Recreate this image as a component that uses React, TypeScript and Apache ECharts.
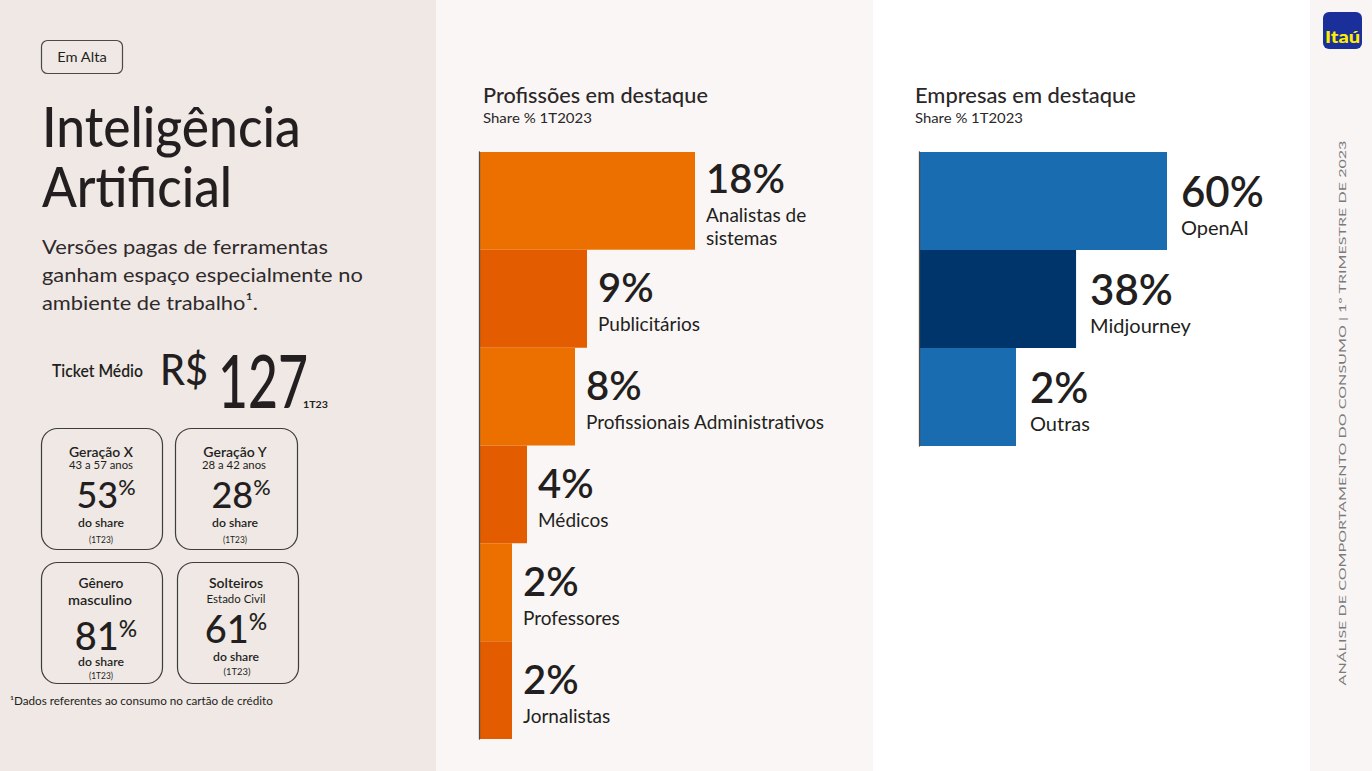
import React, { useEffect, useRef } from 'react';
import * as echarts from 'echarts';

// ---- data ----
const profCategories = ['Analistas de\nsistemas', 'Publicitários', 'Profissionais Administrativos', 'Médicos', 'Professores', 'Jornalistas'];
const profShare = [18, 9, 8, 4, 2, 2];
const profColors = ['#ec7000', '#e35c00', '#ec7000', '#e35c00', '#ec7000', '#e35c00'];

const compCategories = ['OpenAI', 'Midjourney', 'Outras'];
const compShare = [60, 38, 2];
const compColors = ['#1a6cb0', '#00356b', '#1a6cb0'];

const statTitles = ['Geração X', 'Geração Y', 'Gênero', 'Solteiros'];
const statSubtitles = ['43 a 57 anos', '28 a 42 anos', 'masculino', 'Estado Civil'];
const statValues = [53, 28, 81, 61];
const ticketValue = 127;

const FONT = 'Lato, "Noto Sans", sans-serif';
const INK = '#231f20';

export default function App() {
  const ref = useRef<HTMLDivElement>(null);

  useEffect(() => {
    if (!ref.current) return;
    const chart = echarts.init(ref.current, undefined, { renderer: 'svg' });
    const canvas = document.createElement('canvas');
    const ctx = canvas.getContext('2d');

    const txt = (
      text: string, x: number, baseline: number, size: number,
      o: { weight?: string | number; color?: string; align?: string; family?: string; target?: number; k?: number } = {}
    ) => {
      const family = o.family || FONT;
      const weight = o.weight || 'normal';
      let sx = 1;
      if (o.target && ctx) {
        ctx.font = `${weight} ${size}px ${family}`;
        const w = ctx.measureText(text).width;
        if (w > 0) sx = o.target / w;
      }
      const k = o.k ?? 0.387;
      const align = o.align || 'left';
      return {
        type: 'text', x, y: baseline - k * size, scaleX: sx, silent: true, z: 10,
        style: {
          text, fill: o.color || INK, fontSize: size, fontFamily: family, fontWeight: weight,
          align, textAlign: align, verticalAlign: 'middle', textVerticalAlign: 'middle',
        },
      };
    };

    const pct = (v: number, cx: number, baseline: number, size: number) => ({
      type: 'text', x: cx, y: baseline - 0.387 * size, silent: true, z: 10,
      style: {
        text: `{n|${v}}{p|%}`,
        align: 'center', textAlign: 'center', verticalAlign: 'middle', textVerticalAlign: 'middle',
        rich: {
          n: { fontSize: size, lineHeight: size, fontFamily: FONT, fontWeight: 500, fill: INK },
          p: { fontSize: size * 0.6, lineHeight: size * 0.78, fontFamily: FONT, fontWeight: 500, fill: INK, verticalAlign: 'top' },
        },
      },
    });

    const box = (x: number, y: number, w: number, h: number) => ({
      type: 'rect', silent: true, z: 9,
      shape: { x, y, width: w, height: h, r: 16 },
      style: { fill: 'none', stroke: '#3d3d3d', lineWidth: 1.2 },
    });

    const bg = (x: number, w: number, fill: string) => ({
      type: 'rect', silent: true, z: -10, shape: { x, y: 0, width: w, height: 771 }, style: { fill },
    });

    const elements: any[] = [
      bg(0, 436, '#efe8e5'),
      bg(436, 437, '#f9f6f5'),
      bg(873, 437, '#ffffff'),
      bg(1310, 62, '#f8f5f4'),

      // Em Alta tag
      { type: 'rect', silent: true, z: 9, shape: { x: 41.5, y: 40.5, width: 81, height: 33, r: 6 }, style: { fill: 'none', stroke: '#4a4a4a', lineWidth: 1.2 } },
      txt('Em Alta', 82, 62, 14, { align: 'center', target: 50 }),

      // Title
      txt('Inteligência', 42, 147, 56, { weight: 500, target: 259 }),
      txt('Artificial', 42, 207, 56, { weight: 500, target: 190 }),

      // Subtitle
      txt('Versões pagas de ferramentas', 42, 254, 20, { color: '#2e2a2b', target: 286 }),
      txt('ganham espaço especialmente no', 42, 282, 20, { color: '#2e2a2b', target: 321 }),
      txt('ambiente de trabalho¹.', 42, 310, 20, { color: '#2e2a2b', target: 216 }),

      // Ticket
      txt('Ticket Médio', 52, 377, 18, { weight: 600, target: 91 }),
      txt('R$', 160, 385, 42, { weight: 500, target: 48 }),
      txt(String(ticketValue), 218, 408, 74, { weight: 500, target: 90 }),
      txt('1T23', 303, 408, 9, { weight: 'bold', target: 25 }),

      // Stat boxes
      box(41.5, 428.5, 121, 121),
      box(175.5, 428.5, 122, 121),
      box(41.5, 562.5, 121, 121),
      box(177.5, 562.5, 121, 121),

      txt(statTitles[0], 101, 457, 14, { align: 'center', weight: 600, target: 64 }),
      txt(statSubtitles[0], 101, 469, 10.5, { align: 'center', target: 64 }),
      pct(statValues[0], 106, 508, 36),
      txt('do share', 101, 527, 11.5, { align: 'center', weight: 600, target: 46 }),
      txt('(1T23)', 101, 543, 9.5, { align: 'center', target: 24 }),

      txt(statTitles[1], 235, 457, 14, { align: 'center', weight: 600, target: 64 }),
      txt(statSubtitles[1], 234, 469, 10.5, { align: 'center', target: 64 }),
      pct(statValues[1], 241, 508, 36),
      txt('do share', 235, 527, 11.5, { align: 'center', weight: 600, target: 46 }),
      txt('(1T23)', 235, 543, 9.5, { align: 'center', target: 24 }),

      txt(statTitles[2], 101, 588, 14, { align: 'center', weight: 600, target: 45 }),
      txt(statSubtitles[2], 100, 605, 14, { align: 'center', weight: 600, target: 64 }),
      pct(statValues[2], 106, 650, 38),
      txt('do share', 101, 666, 11.5, { align: 'center', weight: 600, target: 46 }),
      txt('(1T23)', 101, 679, 9.5, { align: 'center', target: 24 }),

      txt(statTitles[3], 236, 588, 14, { align: 'center', weight: 600, target: 54 }),
      txt(statSubtitles[3], 236, 603, 10.5, { align: 'center', target: 59 }),
      pct(statValues[3], 236, 643, 38),
      txt('do share', 236, 661, 11.5, { align: 'center', weight: 600, target: 46 }),
      txt('(1T23)', 237, 675, 9.5, { align: 'center', target: 27 }),

      // Footnote
      txt('¹Dados referentes ao consumo no cartão de crédito', 10, 705, 10.5, { target: 263 }),

      // Chart titles
      txt('Profissões em destaque', 483, 103, 21, { weight: 500, color: '#2b2728', target: 225 }),
      txt('Share % 1T2023', 483, 123, 14, { color: '#2b2728', target: 109 }),
      txt('Empresas em destaque', 915, 103, 21, { weight: 500, color: '#2b2728', target: 221 }),
      txt('Share % 1T2023', 915, 123, 14, { color: '#2b2728', target: 108 }),

      // Logo
      { type: 'rect', silent: true, z: 9, shape: { x: 1323, y: 12, width: 39, height: 37, r: 6 }, style: { fill: '#1b2f9b' } },
      txt('Itaú', 1342.5, 43, 16, { align: 'center', weight: 900, color: '#ffee00', target: 35 }),
    ];

    // vertical side text
    const sideText = 'ANÁLISE DE COMPORTAMENTO DO CONSUMO | 1º TRIMESTRE DE 2023';
    let sideScale = 1;
    if (ctx) {
      ctx.font = `normal 9px ${FONT}`;
      const w = ctx.measureText(sideText).width;
      if (w > 0) sideScale = 546 / w;
    }
    elements.push({
      type: 'text', x: 1343, y: 413, rotation: Math.PI / 2, scaleX: sideScale, silent: true, z: 10,
      style: {
        text: sideText, fill: '#7a7a7a', fontSize: 9, fontFamily: FONT,
        align: 'center', textAlign: 'center', verticalAlign: 'middle', textVerticalAlign: 'middle',
      },
    });

    const labelFor = (names: string[], numSize: number, nameSize: number) => ({
      show: true,
      position: 'right',
      formatter: (p: any) =>
        `{v|${p.value}%}\n` + names[p.dataIndex].split('\n').map((s) => `{n|${s}}`).join('\n'),
      rich: {
        v: { fontSize: numSize, lineHeight: 50, fontFamily: FONT, fontWeight: 600, color: INK },
        n: { fontSize: nameSize, lineHeight: 23, fontFamily: FONT, color: INK },
      },
    });

    const yAxisBase = {
      type: 'category',
      inverse: true,
      axisLine: { show: true, lineStyle: { color: '#4d4d4d', width: 1.3 } },
      axisTick: { show: false },
      axisLabel: { show: false },
      z: 5,
    };

    chart.setOption({
      animation: false,
      graphic: { elements },
      grid: [
        { left: 479, top: 152, width: 216, height: 587, containLabel: false },
        { left: 919, top: 152, width: 248, height: 294, containLabel: false },
      ],
      xAxis: [
        { gridIndex: 0, type: 'value', min: 0, max: 18, show: false },
        { gridIndex: 1, type: 'value', min: 0, max: 60, show: false },
      ],
      yAxis: [
        { ...yAxisBase, gridIndex: 0, data: profCategories },
        { ...yAxisBase, gridIndex: 1, data: compCategories },
      ],
      series: [
        {
          type: 'bar', xAxisIndex: 0, yAxisIndex: 0,
          barCategoryGap: 0, barMinHeight: 33,
          data: profShare.map((v, i) => ({ value: v, itemStyle: { color: profColors[i] } })),
          label: { ...labelFor(profCategories, 40, 19), distance: 11 },
        },
        {
          type: 'bar', xAxisIndex: 1, yAxisIndex: 1,
          barCategoryGap: 0, barMinHeight: 97,
          data: compShare.map((v, i) => ({ value: v, itemStyle: { color: compColors[i] } })),
          label: { ...labelFor(compCategories, 42, 20), distance: 14, offset: [0, 1] },
        },
      ],
    });

    return () => chart.dispose();
  }, []);

  return <div ref={ref} style={{ position: 'absolute', left: 0, top: 0, width: 1372, height: 771 }} />;
}
